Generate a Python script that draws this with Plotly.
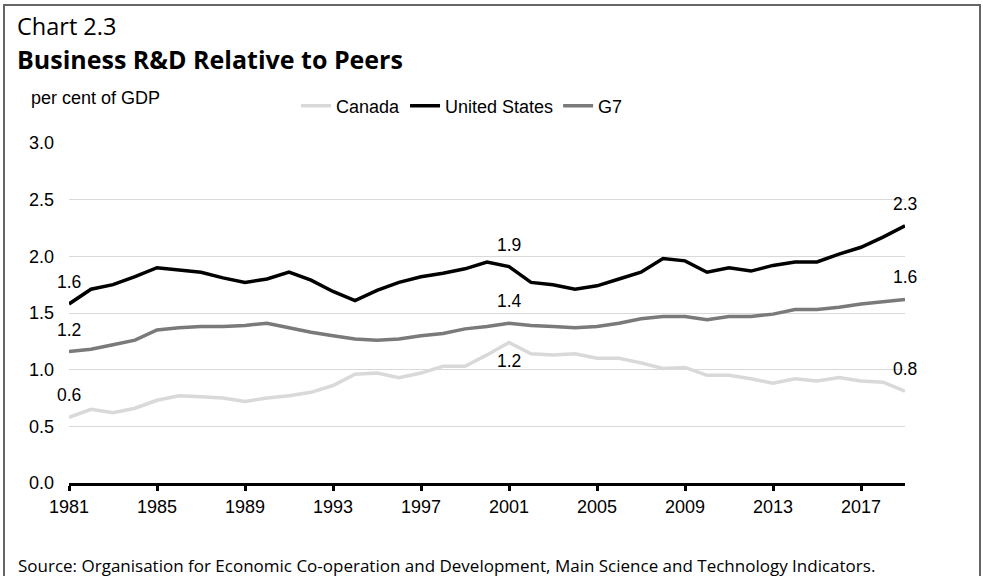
import plotly.graph_objects as go

# Business enterprise R&D expenditure, per cent of GDP
years = list(range(1981, 2020))

canada = [0.58, 0.65, 0.62, 0.66, 0.73, 0.77, 0.76, 0.75, 0.72, 0.75,
          0.77, 0.80, 0.86, 0.96, 0.97, 0.93, 0.97, 1.03, 1.03, 1.13,
          1.24, 1.14, 1.13, 1.14, 1.10, 1.10, 1.06, 1.01, 1.02, 0.95,
          0.95, 0.92, 0.88, 0.92, 0.90, 0.93, 0.90, 0.89, 0.81]

united_states = [1.58, 1.71, 1.75, 1.82, 1.90, 1.88, 1.86, 1.81, 1.77, 1.80,
                 1.86, 1.79, 1.69, 1.61, 1.70, 1.77, 1.82, 1.85, 1.89, 1.95,
                 1.91, 1.77, 1.75, 1.71, 1.74, 1.80, 1.86, 1.98, 1.96, 1.86,
                 1.90, 1.87, 1.92, 1.95, 1.95, 2.02, 2.08, 2.17, 2.27]

g7 = [1.16, 1.18, 1.22, 1.26, 1.35, 1.37, 1.38, 1.38, 1.39, 1.41,
      1.37, 1.33, 1.30, 1.27, 1.26, 1.27, 1.30, 1.32, 1.36, 1.38,
      1.41, 1.39, 1.38, 1.37, 1.38, 1.41, 1.45, 1.47, 1.47, 1.44,
      1.47, 1.47, 1.49, 1.53, 1.53, 1.55, 1.58, 1.60, 1.62]

series_names = ["Canada", "United States", "G7"]
series_values = [canada, united_states, g7]
series_colors = ["#d9d9d9", "#000000", "#7a7a7a"]

x_ticks = list(range(1981, 2019, 4))
y_ticks = [0.0, 0.5, 1.0, 1.5, 2.0, 2.5, 3.0]

# years whose values are written next to the lines
labelled_years = [1981, 2001, 2019]

# plot-area geometry in page pixels (used to place page-level text)
W_PAGE, H_PAGE = 983, 576
M_L, M_R, M_T, M_B = 69, 78, 143, 93
PW = W_PAGE - M_L - M_R
PH = H_PAGE - M_T - M_B


def px(x):
    return (x - M_L) / PW


def py(y):
    return (H_PAGE - M_B - y) / PH


AX_FONT = "Liberation Sans, Arial, sans-serif"
TITLE_FONT = "Open Sans, Noto Sans, sans-serif"

fig = go.Figure()
for name, vals, col in zip(series_names, series_values, series_colors):
    fig.add_trace(go.Scatter(
        x=years, y=vals, name=name, mode="lines",
        line=dict(color=col, width=3.5),
        hoverinfo="x+y+name",
    ))

# value labels at start, 2001 and end of each series
annotations = []
for name, vals in zip(series_names, series_values):
    for yr in labelled_years:
        v = vals[years.index(yr)]
        below = (name == "Canada" and yr == 2001)
        annotations.append(dict(
            x=yr, y=v, xref="x", yref="y", text=f"{v:.1f}",
            showarrow=False, yshift=-19 if below else 22,
            font=dict(family=AX_FONT, size=17.5, color="#000000"),
            xanchor="center", yanchor="middle",
        ))

annotations += [
    dict(x=px(16), y=py(9), xref="paper", yref="paper", text="Chart 2.3",
         showarrow=False, xanchor="left", yanchor="top", borderpad=0,
         font=dict(family=TITLE_FONT, size=23.5, color="#000000")),
    dict(x=px(16), y=py(41), xref="paper", yref="paper",
         text="<b>Business R&amp;D Relative to Peers</b>",
         showarrow=False, xanchor="left", yanchor="top", borderpad=0,
         font=dict(family=TITLE_FONT, size=25, color="#000000")),
    dict(x=px(29), y=py(98), xref="paper", yref="paper", text="per cent of GDP",
         showarrow=False, xanchor="left", yanchor="middle",
         font=dict(family=AX_FONT, size=18, color="#000000")),
    dict(x=px(16), y=py(565), xref="paper", yref="paper",
         text="Source: Organisation for Economic Co-operation and Development, "
              "Main Science and Technology Indicators.",
         showarrow=False, xanchor="left", yanchor="middle",
         font=dict(family=TITLE_FONT, size=17, color="#000000")),
]

fig.update_layout(
    width=W_PAGE, height=H_PAGE,
    margin=dict(l=M_L, r=M_R, t=M_T, b=M_B),
    paper_bgcolor="#ffffff", plot_bgcolor="#ffffff",
    showlegend=True,
    legend=dict(
        orientation="h", x=px(296), y=py(106), xanchor="left", yanchor="middle",
        font=dict(family=AX_FONT, size=18, color="#000000"),
        bgcolor="rgba(0,0,0,0)", itemwidth=30, tracegroupgap=0,
    ),
    xaxis=dict(
        range=[1981, 2019], tickvals=x_ticks, ticktext=[str(t) for t in x_ticks],
        showgrid=False, zeroline=False,
        showline=True, linecolor="#000000", linewidth=3,
        ticks="outside", ticklen=5, tickwidth=3, tickcolor="#000000",
        tickfont=dict(family=AX_FONT, size=18, color="#000000"),
    ),
    yaxis=dict(
        range=[0, 3], tickvals=y_ticks, ticktext=[f"{t:.1f}" for t in y_ticks],
        showgrid=True, gridcolor="#d9d9d9", gridwidth=1.2,
        zeroline=False, showline=False, ticks="",
        ticklabelstandoff=14,
        tickfont=dict(family=AX_FONT, size=18, color="#000000"),
    ),
    annotations=annotations,
    shapes=[dict(
        type="rect", xref="paper", yref="paper",
        x0=px(4), x1=px(980), y0=py(600), y1=py(5),
        line=dict(color="#666666", width=2), fillcolor="rgba(0,0,0,0)",
        layer="below",
    )],
)

fig.write_html("out.html")
